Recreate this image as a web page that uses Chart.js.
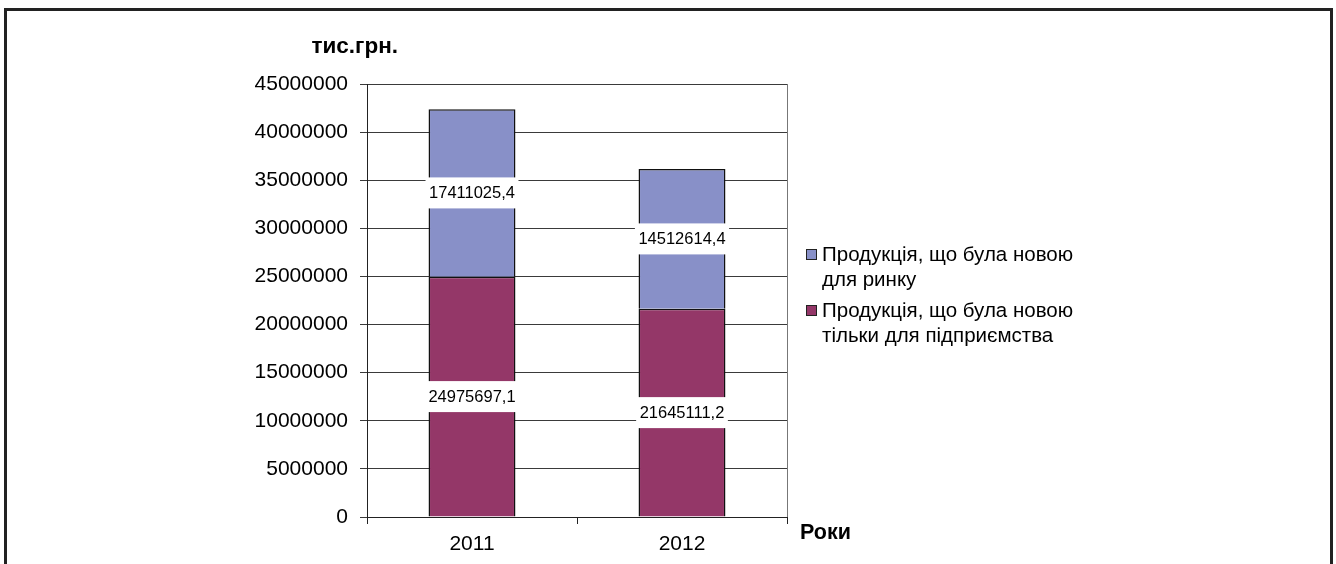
<!DOCTYPE html>
<html>
<head>
<meta charset="utf-8">
<script src="https://cdn.jsdelivr.net/npm/chart.js@4/dist/chart.umd.min.js"></script>
<style>
  html, body { margin: 0; padding: 0; background: #fff; overflow: hidden; }
  .wrap { position: relative; width: 1336px; height: 564px; }
  .frame { position: absolute; left: 4px; top: 8px; width: 1323px; height: 600px; border: 3px solid #222; }
  canvas { position: absolute; left: 0; top: 0; }
</style>
</head>
<body>
<div class="wrap">
  <div class="frame"></div>
  <canvas id="chart" width="1336" height="564"></canvas>
</div>
<script>
const years = ['2011', '2012'];
const onlyEnterprise = [24975697.1, 21645111.2];
const newForMarket = [17411025.4, 14512614.4];
const seriesNames = [
    'Продукція, що була новою тільки для підприємства',
    'Продукція, що була новою для ринку'
];
const seriesColors = ['#943768', '#8890c8'];
const yMax = 45000000;
const yStep = 5000000;
const yUnit = 'тис.грн.';
const xTitle = 'Роки';

const FONT = "'Liberation Sans', Arial, sans-serif";

// white boxed value in the middle of every bar segment
const valueLabels = {
    id: 'valueLabels',
    afterDatasetsDraw(chart) {
        const ctx = chart.ctx;
        ctx.save();
        ctx.font = '16.5px ' + FONT;
        ctx.textAlign = 'center';
        ctx.textBaseline = 'middle';
        chart.data.datasets.forEach((ds, i) => {
            chart.getDatasetMeta(i).data.forEach((bar, j) => {
                const text = String(ds.data[j]).replace('.', ',');
                const cy = (bar.y + bar.base) / 2;
                const w = ctx.measureText(text).width + 7;
                const h = 31;
                ctx.fillStyle = '#fff';
                ctx.fillRect(bar.x - w / 2, cy - h / 2, w, h);
                ctx.fillStyle = '#000';
                ctx.fillText(text, bar.x, cy + 1);
            });
        });
        ctx.restore();
    }
};

function wrapText(ctx, text, maxWidth) {
    const words = text.split(' ');
    const lines = [];
    let line = '';
    words.forEach(w => {
        const test = line ? line + ' ' + w : w;
        if (line && ctx.measureText(test).width > maxWidth) {
            lines.push(line);
            line = w;
        } else {
            line = test;
        }
    });
    if (line) lines.push(line);
    return lines;
}

// legend, axis unit and axis title
const extras = {
    id: 'extras',
    afterDraw(chart) {
        const ctx = chart.ctx;
        const area = chart.chartArea;
        ctx.save();

        // right edge of plot
        ctx.strokeStyle = '#777';
        ctx.lineWidth = 1;
        ctx.beginPath();
        ctx.moveTo(Math.round(area.right) + 0.5, area.top);
        ctx.lineTo(Math.round(area.right) + 0.5, area.bottom);
        ctx.stroke();

        ctx.fillStyle = '#000';
        ctx.font = 'bold 22.5px ' + FONT;
        ctx.textBaseline = 'middle';
        ctx.textAlign = 'right';
        ctx.fillText(yUnit, area.left + 31, 47);
        ctx.font = 'bold 21.5px ' + FONT;
        ctx.textAlign = 'left';
        ctx.fillText(xTitle, area.right + 13, area.bottom + 16);

        // legend, top series first
        ctx.font = '20.5px ' + FONT;
        const lineH = 25.5;
        const items = chart.data.datasets.map(ds => ({
            color: ds.backgroundColor,
            lines: wrapText(ctx, ds.label, 275)
        })).reverse();
        let y = 255;
        const lx = area.right + 19;
        items.forEach(it => {
            ctx.fillStyle = it.color;
            ctx.fillRect(lx, y - 6, 11, 11);
            ctx.strokeStyle = '#222';
            ctx.strokeRect(lx + 0.5, y - 5.5, 10, 10);
            ctx.fillStyle = '#000';
            it.lines.forEach((ln, k) => {
                ctx.fillText(ln, lx + 16, y + k * lineH);
            });
            y += it.lines.length * lineH + 5;
        });
        ctx.restore();
    }
};

new Chart(document.getElementById('chart'), {
    type: 'bar',
    data: {
        labels: years,
        datasets: [{
            label: seriesNames[0],
            data: onlyEnterprise,
            backgroundColor: seriesColors[0],
            borderColor: '#111',
            borderWidth: 1.5
        }, {
            label: seriesNames[1],
            data: newForMarket,
            backgroundColor: seriesColors[1],
            borderColor: '#111',
            borderWidth: 1.5
        }]
    },
    options: {
        responsive: false,
        animation: false,
        devicePixelRatio: 1,
        categoryPercentage: 1,
        barPercentage: 0.414,
        layout: { padding: { left: 0, top: 84, right: 549, bottom: 0 } },
        plugins: {
            legend: { display: false },
            tooltip: { enabled: false }
        },
        scales: {
            x: {
                stacked: true,
                afterFit(scale) { scale.height = 47; },
                grid: { drawOnChartArea: false, drawTicks: true, tickLength: 7, color: '#222' },
                border: { color: '#222' },
                ticks: { color: '#000', font: { family: FONT, size: 21 }, padding: 8 }
            },
            y: {
                stacked: true,
                min: 0,
                max: yMax,
                afterFit(scale) { scale.width = 367; },
                grid: { color: '#3a3a3a', tickLength: 7 },
                border: { color: '#222' },
                ticks: {
                    stepSize: yStep,
                    color: '#000',
                    font: { family: FONT, size: 21 },
                    padding: 12,
                    callback: v => String(v)
                }
            }
        }
    },
    plugins: [valueLabels, extras]
});
</script>
</body>
</html>
